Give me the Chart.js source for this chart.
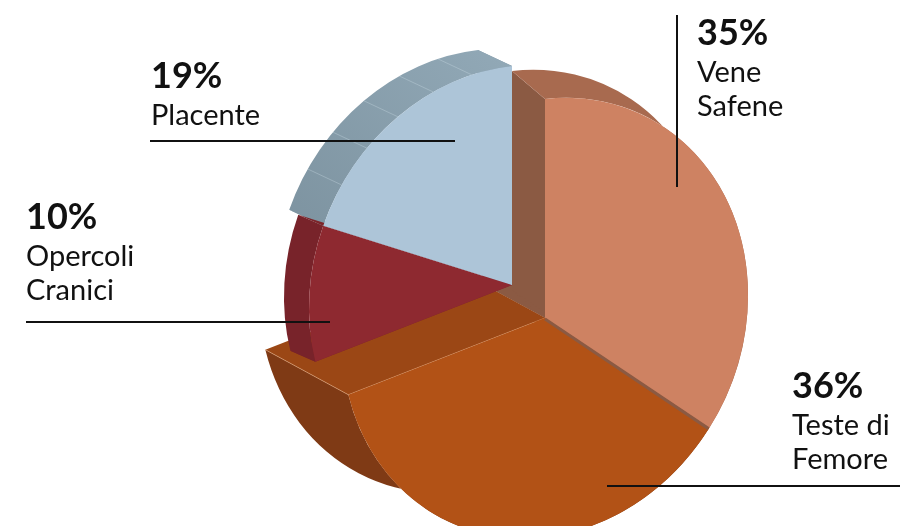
<!DOCTYPE html>
<html lang="it">
<head>
<meta charset="utf-8">
<title>Provenienza dei tessuti</title>
<script src="https://cdn.jsdelivr.net/npm/chart.js@4.4.1/dist/chart.umd.min.js"></script>
<style>
  html, body { margin: 0; padding: 0; background: #fff; }
  canvas { display: block; }
</style>
</head>
<body>
<canvas id="pie" width="900" height="526"></canvas>
<script>
// data, clockwise from 12 o'clock
const categories = [['Vene', 'Safene'], ['Teste di', 'Femore'], ['Opercoli', 'Cranici'], ['Placente']];
const shares = [35, 36, 10, 19];

// look of the faces and of the 3d sides
const faceColors = ['#ce8262', '#b25216', '#8e2930', '#adc5d8'];
const radialWallColors = ['#8b5a43', '#9b4715', '#7d2429', '#7f96a5'];
const outerWallColors = ['#a86a4f', '#7f3a15', '#78232a', '#869dac'];
const depths = [[-33, -28], [-83, -45], [-25, -11], [-34, -16]]; // screen px
const pulledForward = [true, true, false, false];
const wallOrder = [3, 1, 0, 2];

// fake perspective: squeeze + shear around the pie centre
const SQUEEZE = 0.927;
const SHEAR = -0.105;
const FRONT_SHIFT = [33, 33];

const labelLayout = [
  { x: 697, y: 45, line: [677, 15, 677, 187] },
  { x: 792, y: 398, line: [607, 486, 900, 486] },
  { x: 26, y: 229, line: [26, 322, 330, 322] },
  { x: 151, y: 88, line: [150, 141, 455, 141] }
];

function toLocal(dx, dy) {
  const lx = dx / SQUEEZE;
  return [lx, dy - SHEAR * lx];
}

function pieCentre(chart) {
  const a = chart.chartArea;
  return [(a.left + a.right) / 2, (a.top + a.bottom) / 2];
}

function arcProps(el) {
  return el.getProps(['x', 'y', 'startAngle', 'endAngle', 'outerRadius'], true);
}

const perspective = {
  id: 'perspective',
  afterDatasetsUpdate(chart) {
    const [sx, sy] = toLocal(FRONT_SHIFT[0], FRONT_SHIFT[1]);
    chart.getDatasetMeta(0).data.forEach((arc, i) => {
      if (pulledForward[i]) {
        arc.x += sx;
        arc.y += sy;
      }
    });
  },
  beforeDatasetsDraw(chart) {
    const ctx = chart.ctx;
    const [cx, cy] = pieCentre(chart);
    ctx.save();
    ctx.transform(SQUEEZE, SHEAR, 0, 1, cx - SQUEEZE * cx, -SHEAR * cx);

    const arcs = chart.getDatasetMeta(0).data;

    // gap left behind where the front slices were pulled out
    const front = arcProps(arcs[0]);
    const [ox, oy] = toLocal(depths[1][0], depths[1][1]);
    ctx.fillStyle = radialWallColors[0];
    ctx.beginPath();
    ctx.moveTo(cx, cy);
    ctx.lineTo(front.x, front.y);
    ctx.lineTo(front.x + ox, front.y + oy);
    ctx.closePath();
    ctx.fill();

    wallOrder.forEach((i) => {
      const { x, y, startAngle, endAngle, outerRadius: r } = arcProps(arcs[i]);
      const [dx, dy] = toLocal(depths[i][0], depths[i][1]);
      const px = (ang) => x + Math.cos(ang) * r;
      const py = (ang) => y + Math.sin(ang) * r;

      // radial walls
      ctx.fillStyle = radialWallColors[i];
      [startAngle, endAngle].forEach((ang) => {
        ctx.beginPath();
        ctx.moveTo(x, y);
        ctx.lineTo(px(ang), py(ang));
        ctx.lineTo(px(ang) + dx, py(ang) + dy);
        ctx.lineTo(x + dx, y + dy);
        ctx.closePath();
        ctx.fill();
      });

      // curved outer wall
      let fill = outerWallColors[i];
      if (i === 3) {
        fill = ctx.createLinearGradient(x, y - r, x - r, y);
        fill.addColorStop(0, '#91a8b6');
        fill.addColorStop(1, '#7a909d');
      }
      ctx.fillStyle = fill;
      ctx.beginPath();
      ctx.arc(x, y, r, startAngle, endAngle);
      ctx.lineTo(px(endAngle) + dx, py(endAngle) + dy);
      ctx.arc(x + dx, y + dy, r, endAngle, startAngle, true);
      ctx.closePath();
      ctx.fill();

      if (i === 3) {
        ctx.strokeStyle = 'rgba(205,220,230,0.45)';
        ctx.lineWidth = 0.8;
        const step = (endAngle - startAngle) / 6;
        for (let k = 1; k < 6; k++) {
          const ang = startAngle + k * step;
          ctx.beginPath();
          ctx.moveTo(px(ang), py(ang));
          ctx.lineTo(px(ang) + dx, py(ang) + dy);
          ctx.stroke();
        }
      }
      if (i === 1) {
        ctx.strokeStyle = 'rgba(235,175,130,0.7)';
        ctx.lineWidth = 0.8;
        ctx.beginPath();
        ctx.moveTo(px(endAngle) + dx, py(endAngle) + dy);
        ctx.lineTo(px(endAngle), py(endAngle));
        ctx.lineTo(x, y);
        ctx.stroke();
      }
    });
  },
  afterDatasetsDraw(chart) {
    const ctx = chart.ctx;
    // thin dark seam between the two front slices
    const s = arcProps(chart.getDatasetMeta(0).data[0]);
    ctx.strokeStyle = radialWallColors[0];
    ctx.lineWidth = 3;
    ctx.beginPath();
    ctx.moveTo(s.x, s.y + 1);
    ctx.lineTo(s.x + Math.cos(s.endAngle) * (s.outerRadius - 1), s.y + Math.sin(s.endAngle) * (s.outerRadius - 1) + 1);
    ctx.stroke();
    ctx.restore();
  }
};

const leaderLabels = {
  id: 'leaderLabels',
  afterDraw(chart) {
    const ctx = chart.ctx;
    ctx.save();
    ctx.fillStyle = '#111';
    ctx.strokeStyle = '#111';
    ctx.lineWidth = 2;
    ctx.textBaseline = 'alphabetic';
    ctx.textAlign = 'left';
    labelLayout.forEach((lay, i) => {
      ctx.font = 'bold 36px Lato, "Open Sans", sans-serif';
      ctx.fillText(shares[i] + '%', lay.x, lay.y);
      ctx.font = '29px Lato, "Open Sans", sans-serif';
      categories[i].forEach((txt, k) => {
        ctx.fillText(txt, lay.x, lay.y + 37 + k * 34);
      });
      const [x1, y1, x2, y2] = lay.line;
      ctx.beginPath();
      ctx.moveTo(x1, y1);
      ctx.lineTo(x2, y2);
      ctx.stroke();
    });
    ctx.restore();
  }
};

new Chart(document.getElementById('pie'), {
  type: 'pie',
  data: {
    labels: categories,
    datasets: [{
      data: shares,
      backgroundColor: faceColors,
      borderWidth: 0,
      radius: 219,
      clip: false
    }]
  },
  options: {
    responsive: false,
    animation: false,
    events: [],
    layout: { padding: { left: 224, right: 100, top: 44, bottom: 0 } },
    plugins: {
      legend: { display: false },
      tooltip: { enabled: false }
    }
  },
  plugins: [perspective, leaderLabels]
});
</script>
</body>
</html>
